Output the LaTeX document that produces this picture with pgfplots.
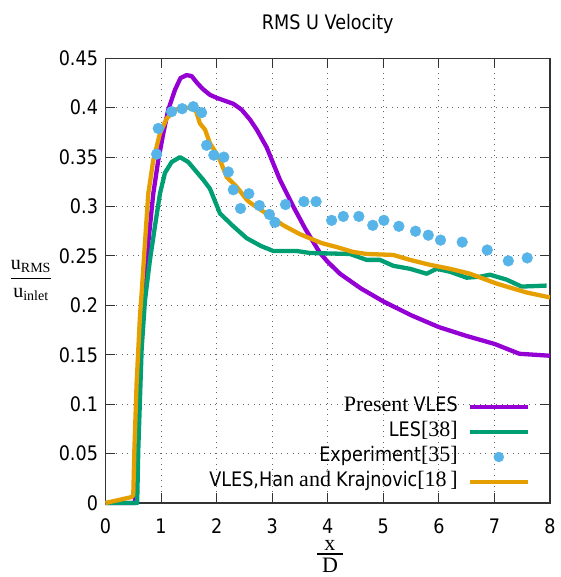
\documentclass[border=0pt]{standalone}
\usepackage{fontspec}
\usepackage{amsmath}
\setmainfont{Liberation Serif}
\newfontfamily\tah{DejaVu Sans}[FakeStretch=0.88]
\usepackage{pgfplots}
\pgfplotsset{compat=1.18}

\definecolor{cviolet}{HTML}{9400D3}
\definecolor{cgreen}{HTML}{009E73}
\definecolor{cblue}{HTML}{56B4E9}
\definecolor{corange}{HTML}{E69F00}

\newcommand{\sfs}{\tah\fontsize{20bp}{24bp}\selectfont}
\newcommand{\rms}{\fontsize{22bp}{26bp}\selectfont}
% compact stacked fraction for the x label
\newcommand{\stackfrac}[2]{\vbox{\offinterlineskip
  \hbox to 26bp{\hss#1\hss}\kern3bp\hrule height 1.1bp\kern3bp
  \hbox to 26bp{\hss#2\hss}}}

\pgfplotsset{
  lineleg/.style={legend image code/.code={\draw[##1] (0bp,0bp) -- (58bp,0bp);}},
  dotleg/.style={legend image code/.code={\fill[cblue] (29bp,0bp) circle (5bp);}},
}

\begin{document}
\begin{tikzpicture}
\useasboundingbox (-105.5bp,-74bp) rectangle (455.5bp,503bp);
\begin{axis}[
  at={(0,0)}, anchor=south west,
  scale only axis, width=444.5bp, height=444.7bp,
  xmin=0, xmax=8, ymin=0, ymax=0.45,
  clip=false,
  xtick={0,1,2,3,4,5,6,7,8},
  xticklabels={0,1,2,3,4,5,6,7,8},
  ytick={0,0.05,0.1,0.15,0.2,0.25,0.3,0.35,0.4,0.45},
  yticklabels={0,0.05,0.1,0.15,0.2,0.25,0.3,0.35,0.4,0.45},
  tick label style={font=\sfs},
  xticklabel style={anchor=base, inner sep=1bp, yshift=-30bp},
  yticklabel style={xshift=-4bp},
  tick align=inside,
  major tick length=10bp,
  tick style={line width=1.1bp, black!80},
  axis line style={line width=1.1bp, black!80},
  grid=major,
  major grid style={black!60, line width=1bp, dash pattern=on 1bp off 4.5bp},
  title={\sfs RMS U Velocity},
  every axis title/.style={at={(rel axis cs:0.5,1)}, anchor=base, yshift=29bp},
  xlabel={\fontsize{22bp}{26bp}\selectfont\stackfrac{x}{D}},
  every axis x label/.style={at={(rel axis cs:0.505,0)}, anchor=base, inner sep=0pt, yshift=-69bp},
  ylabel={\fontsize{20bp}{24bp}\selectfont$\dfrac{\text{u}_{\text{RMS}}}{\text{u}_{\text{inlet}}}$},
  every axis y label/.style={at={(rel axis cs:0,0.5)}, anchor=center, xshift=-74.5bp},
  legend style={draw=none, fill=none, at={(rel axis cs:0.955,0.2384)}, anchor=north east,
    inner sep=0pt, outer sep=0pt, row sep=5bp, column sep=10bp,
    nodes={inner sep=0pt, text height=15bp, text depth=5bp, font=\fontsize{20bp}{24bp}\selectfont}},
  legend cell align=right,
  legend plot pos=right,
  every axis plot/.append style={line join=round},
]

% Present VLES
\addplot[cviolet, line width=4.3bp, lineleg] coordinates {
(0,0) (0.53,0) (0.55,0.08) (0.6,0.14) (0.65,0.18) (0.70,0.212) (0.74,0.246)
(0.80,0.28) (0.86,0.313) (0.95,0.347) (1.04,0.374) (1.13,0.398) (1.25,0.418)
(1.35,0.430) (1.46,0.433) (1.55,0.432) (1.65,0.425) (1.75,0.419) (1.88,0.413)
(2.0,0.410) (2.15,0.407) (2.3,0.404) (2.45,0.398) (2.6,0.388) (2.72,0.378)
(2.9,0.360) (3.14,0.327) (3.38,0.300) (3.6,0.277) (3.86,0.253) (4.0,0.244)
(4.22,0.232) (4.6,0.217) (5.0,0.204) (5.5,0.190) (6.0,0.178) (6.5,0.169)
(7.0,0.161) (7.45,0.151) (8.0,0.149)
};
\addlegendentry{{\rms Present} {\tah VLES}}

% LES [38]
\addplot[cgreen, line width=4.3bp, lineleg] coordinates {
(0,0) (0.57,0) (0.59,0.054) (0.65,0.155) (0.71,0.205) (0.80,0.246) (0.89,0.28)
(0.98,0.313) (1.07,0.334) (1.19,0.345) (1.34,0.350) (1.49,0.345) (1.64,0.335)
(1.76,0.327) (1.88,0.318) (1.96,0.307) (2.06,0.293) (2.30,0.280) (2.54,0.268)
(2.8,0.260) (3.02,0.255) (3.44,0.255) (3.68,0.253) (4.4,0.252) (4.70,0.246)
(4.94,0.246) (5.18,0.240) (5.48,0.237) (5.78,0.232) (5.96,0.237) (6.20,0.234)
(6.50,0.228) (6.74,0.229) (6.92,0.231) (7.22,0.226) (7.49,0.219) (7.94,0.220)
};
\addlegendentry{{\tah LES}{\rms[38]}}

% Experiment [35]
\addplot[only marks, mark=*, mark size=5.4bp, cblue, mark options={draw=none, fill=cblue}, dotleg] coordinates {
(0.92,0.353) (0.95,0.379) (1.19,0.396) (1.38,0.399) (1.58,0.401) (1.73,0.395)
(1.82,0.362) (1.95,0.352) (2.13,0.350) (2.21,0.335) (2.30,0.317) (2.43,0.298)
(2.58,0.313) (2.77,0.301) (2.95,0.292) (3.05,0.284) (3.24,0.302) (3.57,0.305)
(3.79,0.305) (4.07,0.286) (4.28,0.290) (4.56,0.290) (4.81,0.281) (5.01,0.286)
(5.28,0.280) (5.58,0.275) (5.81,0.271) (6.03,0.266) (6.42,0.264) (6.87,0.256)
(7.25,0.245) (7.59,0.248)
};
\addlegendentry{{\tah Experiment}{\rms[35]}}

% VLES, Han and Krajnovic [18]
\addplot[corange, line width=4.3bp, lineleg] coordinates {
(0,0) (0.47,0.006) (0.50,0.008) (0.52,0.054) (0.56,0.121) (0.62,0.189)
(0.65,0.212) (0.71,0.263) (0.77,0.313) (0.86,0.347) (0.98,0.374) (1.10,0.389)
(1.25,0.398) (1.43,0.400) (1.61,0.400) (1.70,0.384) (1.79,0.378) (1.88,0.364)
(1.97,0.356) (2.06,0.347) (2.18,0.330) (2.36,0.320) (2.54,0.307) (2.60,0.304)
(2.84,0.295) (3.20,0.281) (3.50,0.272) (3.89,0.263) (4.16,0.259) (4.46,0.254)
(4.70,0.252) (5.18,0.251) (5.48,0.246) (5.84,0.241) (6.20,0.237) (6.56,0.232)
(6.80,0.227) (7.04,0.222) (7.58,0.213) (8.0,0.208)
};
\addlegendentry{{\tah VLES,Han} {\rms and} {\tah Krajnovic}{\rms[18\,]}}

\end{axis}
\end{tikzpicture}
\end{document}
